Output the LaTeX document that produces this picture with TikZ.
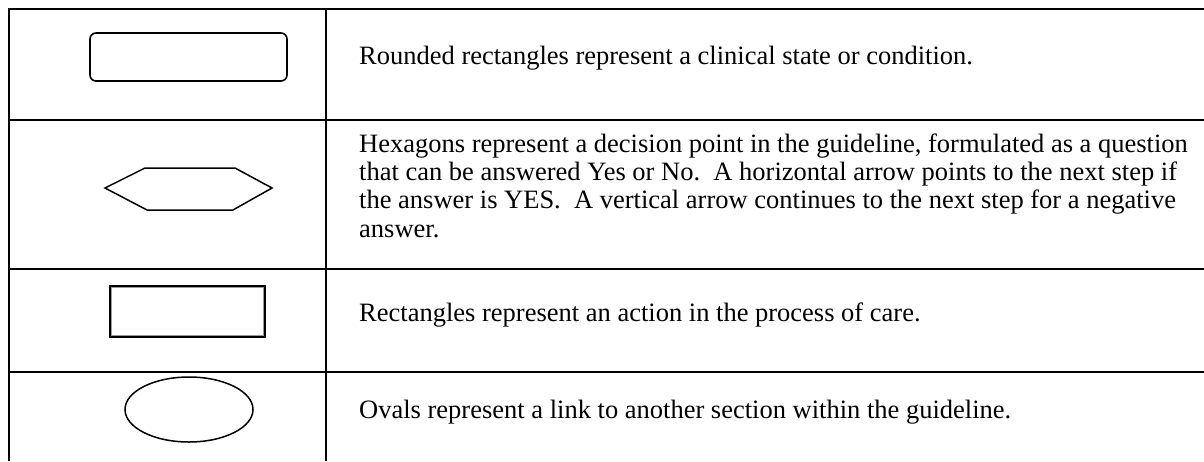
\documentclass[tikz,border=0pt]{standalone}
\usepackage{fontspec}
\setmainfont{Liberation Serif}
\usetikzlibrary{shapes.geometric}
\begin{document}
\begin{tikzpicture}[x=1pt,y=-1pt,
  grid/.style={line width=2pt,black},
  sym/.style={draw=black,line width=1.6pt},
  desc/.style={anchor=north west,inner sep=0pt,align=left,
    font=\fontsize{26.5}{28.3}\selectfont}]
\useasboundingbox (0,0) rectangle (1204,461);
% table grid
\draw[grid] (9,461) -- (9,9) -- (1204,9);
\draw[grid] (326,9) -- (326,461);
\draw[grid] (9,120) -- (1204,120);
\draw[grid] (9,269) -- (1204,269);
\draw[grid] (9,372) -- (1204,372);
% symbols
\node[sym,rectangle,rounded corners=6pt,minimum width=197pt,minimum height=48pt,inner sep=0pt] (rr) at (188.5,57) {};
\draw[sym,line width=1.5pt] (105,188) -- (145,168) -- (235,168) -- (272,188) -- (233,210) -- (147,210) -- cycle;
\node[sym,rectangle,line width=2pt,minimum width=155pt,minimum height=51pt,inner sep=0pt] (rect) at (187.5,311.5) {};
\draw[black!40,line width=1.2pt] ([shift={(2.2pt,-2.2pt)}]rect.north west) rectangle ([shift={(-2.2pt,2.2pt)}]rect.south east);
\node[sym,ellipse,line width=1.5pt,minimum width=128pt,minimum height=65pt,inner sep=0pt] (oval) at (189,409.5) {};
% descriptions
\node[desc] (t1) at (359,42) {\rule{0pt}{22pt}Rounded rectangles represent a clinical state or condition.};
\node[desc] (t2) at (359,130) {\rule{0pt}{22pt}Hexagons represent a decision point in the guideline, formulated as a question\\
that can be answered Yes or No.\ \ A horizontal arrow points to the next step if\\
the answer is YES.\ \ A vertical arrow continues to the next step for a negative\\
answer.};
\node[desc] (t3) at (359,299) {\rule{0pt}{22pt}Rectangles represent an action in the process of care.};
\node[desc] (t4) at (359,396) {\rule{0pt}{22pt}Ovals represent a link to another section within the guideline.};
\end{tikzpicture}
\end{document}
